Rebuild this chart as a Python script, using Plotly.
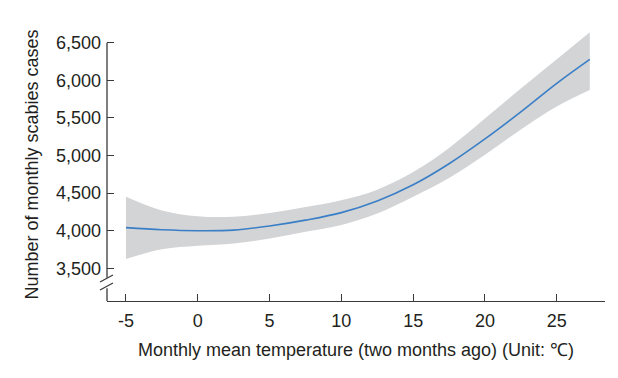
import plotly.graph_objects as go

# Data
temperature = [-5, -2.5, 0, 2.5, 5, 7.5, 10, 12.5, 15, 17.5, 20, 22.5, 25, 27.3]
cases_fit = [4040, 4012, 4000, 4008, 4062, 4140, 4240, 4395, 4610, 4890, 5220, 5580, 5960, 6279]
cases_upper = [4452, 4270, 4192, 4186, 4236, 4315, 4405, 4545, 4780, 5100, 5490, 5890, 6280, 6640]
cases_lower = [3624, 3752, 3800, 3830, 3895, 3985, 4076, 4228, 4450, 4700, 5010, 5345, 5650, 5869]

x_ticks = [-5, 0, 5, 10, 15, 20, 25]
x_ticktext = ["-5", "0", "5", "10", "15", "20", "25"]
y_ticks = [3500, 4000, 4500, 5000, 5500, 6000, 6500]
y_ticktext = ["3,500", "4,000", "4,500", "5,000", "5,500", "6,000", "6,500"]

X_RANGE = [-6.32, 28.36]
Y_RANGE = [3065, 6695]
AXIS_COLOR = "#3a3a3a"
TEXT_COLOR = "#231f20"
FONT = "Liberation Sans, Arial, sans-serif"
FS = 18

fig = go.Figure()
fig.add_trace(go.Scatter(
    x=temperature, y=cases_upper, mode="lines",
    line=dict(width=0, shape="spline", smoothing=1.0),
    hoverinfo="skip", showlegend=False,
))
fig.add_trace(go.Scatter(
    x=temperature, y=cases_lower, mode="lines",
    line=dict(width=0, shape="spline", smoothing=1.0),
    fill="tonexty", fillcolor="#d3d4d6",
    hoverinfo="skip", showlegend=False,
))
fig.add_trace(go.Scatter(
    x=temperature, y=cases_fit, mode="lines",
    line=dict(color="#3a7ec6", width=1.6, shape="spline", smoothing=1.0),
    showlegend=False,
))

# y-axis line with break marks
line_style = dict(color=AXIS_COLOR, width=1.3)
fig.add_shape(type="line", xref="paper", yref="y", x0=0, x1=0, y0=6500, y1=3375, line=line_style)
fig.add_shape(type="line", xref="paper", yref="y", x0=0, x1=0, y0=3236, y1=Y_RANGE[0], line=line_style)
fig.add_shape(type="line", xref="paper", yref="y", x0=-0.014, x1=0.012, y0=3318, y1=3411, line=line_style)
fig.add_shape(type="line", xref="paper", yref="y", x0=-0.014, x1=0.012, y0=3211, y1=3304, line=line_style)

# page body has an 8px margin, so the figure is 8px smaller than the window
fig.update_layout(
    width=610, height=370,
    margin=dict(l=99, r=13, t=20, b=77),
    paper_bgcolor="white", plot_bgcolor="white",
    font=dict(family=FONT, size=FS, color=TEXT_COLOR),
    xaxis=dict(
        range=X_RANGE, tickvals=x_ticks, ticktext=x_ticktext,
        showgrid=False, zeroline=False, automargin=False,
        showline=True, linecolor=AXIS_COLOR, linewidth=1.3,
        ticks="inside", ticklen=7, tickwidth=1.2, tickcolor=AXIS_COLOR,
        ticklabelstandoff=3,
        tickfont=dict(size=FS, color=TEXT_COLOR),
        title=dict(text="Monthly mean temperature (two months ago) (Unit: ℃)",
                   font=dict(size=FS, color=TEXT_COLOR), standoff=13),
    ),
    yaxis=dict(
        range=Y_RANGE, tickvals=y_ticks, ticktext=y_ticktext,
        showgrid=False, zeroline=False, showline=False, automargin=False,
        ticks="inside", ticklen=7, tickwidth=1.2, tickcolor=AXIS_COLOR,
        ticklabelstandoff=5,
        tickfont=dict(size=FS, color=TEXT_COLOR),
        title=dict(text="Number of monthly scabies cases",
                   font=dict(size=18, color=TEXT_COLOR), standoff=12),
    ),
)

fig.write_html("out.html")
